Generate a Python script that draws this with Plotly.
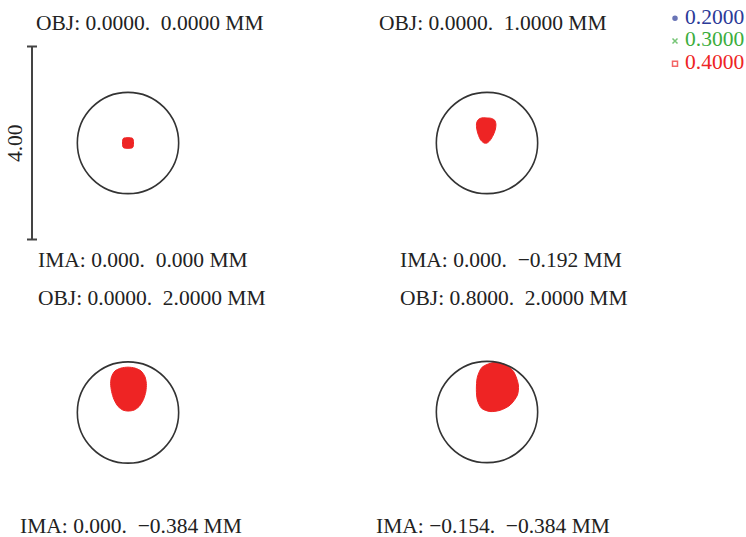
import plotly.graph_objects as go

# Canvas and drawing scale (the 4.00 scale bar spans 193 px)
W, H = 746, 537
PX_PER_UNIT = 48.25

# Field labels
obj_labels = [
    "OBJ: 0.0000.\u00a0 0.0000 MM",
    "OBJ: 0.0000.\u00a0 1.0000 MM",
    "OBJ: 0.0000.\u00a0 2.0000 MM",
    "OBJ: 0.8000.\u00a0 2.0000 MM",
]
ima_labels = [
    "IMA: 0.000.\u00a0 0.000 MM",
    "IMA: 0.000.\u00a0 \u22120.192 MM",
    "IMA: 0.000.\u00a0 \u22120.384 MM",
    "IMA: \u22120.154.\u00a0 \u22120.384 MM",
]

# Wavelengths shown in the key
wavelengths = ["0.2000", "0.3000", "0.4000"]
wave_colors = ["#2b3a98", "#3cad3c", "#ee2424"]
wave_symbols = ["circle", "x-thin-open", "square-open"]

# Airy disc radius and scale bar length (same units)
airy_radius = 1.05
scale_bar = 4.00

# Spot footprints (outline of the ray cloud), relative to each field's reference point
spot1_x = [-0.11, -0.11, -0.09, 0.09, 0.11, 0.11, 0.09, -0.09]
spot1_y = [-0.06, 0.06, 0.10, 0.10, 0.06, -0.06, -0.10, -0.10]

spot2_x = [-0.02, 0.09, 0.16, 0.185, 0.175, 0.13, 0.06, 0.0, -0.06, -0.13,
           -0.185, -0.215, -0.215, -0.175, -0.11]
spot2_y = [0.52, 0.51, 0.47, 0.39, 0.29, 0.165, 0.05, 0.0, 0.0, 0.06,
           0.185, 0.31, 0.42, 0.49, 0.52]

spot3_x = [0.0, 0.145, 0.27, 0.35, 0.38, 0.37, 0.32, 0.23, 0.125, 0.0, -0.105,
           -0.205, -0.29, -0.34, -0.36, -0.34, -0.27, -0.145]
spot3_y = [0.94, 0.92, 0.86, 0.745, 0.60, 0.435, 0.27, 0.125, 0.05, 0.03, 0.05,
           0.125, 0.27, 0.435, 0.60, 0.745, 0.86, 0.92]

spot4_x = [-0.10, 0.165, 0.38, 0.55, 0.65, 0.63, 0.48, 0.27, 0.06, -0.115,
           -0.20, -0.22, -0.20]
spot4_y = [0.93, 1.03, 0.98, 0.84, 0.56, 0.35, 0.145, 0.035, 0.01, 0.08,
           0.25, 0.46, 0.72]

spots = [(spot1_x, spot1_y), (spot2_x, spot2_y), (spot3_x, spot3_y), (spot4_x, spot4_y)]

# Panel layout (pixel positions of each field's reference point and labels)
panel_px = [(128, 143), (487, 143), (128, 412.5), (487, 412)]
obj_px = [(150, 23), (492.5, 23), (152, 298), (513.5, 298)]
ima_px = [(142.5, 260), (511, 260), (131, 526), (492.5, 526)]
bar_x_px = 32

FONT = "Liberation Serif, Times New Roman, serif"
FONT_SIZE = 21.5
RED = wave_colors[2]
INK = "#333333"


def to_units(px, py):
    return px / PX_PER_UNIT, (H - py) / PX_PER_UNIT


fig = go.Figure()
shapes = []
annotations = []

for (px, py), (sx, sy) in zip(panel_px, spots):
    cx, cy = to_units(px, py)
    fig.add_trace(go.Scatter(
        x=[cx + v for v in sx] + [cx + sx[0]],
        y=[cy + v for v in sy] + [cy + sy[0]],
        mode="lines", fill="toself", fillcolor=RED,
        line=dict(color=RED, width=1, shape="spline", smoothing=0.8),
        showlegend=False, hoverinfo="skip",
    ))
    shapes.append(dict(
        type="circle", xref="x", yref="y",
        x0=cx - airy_radius, x1=cx + airy_radius,
        y0=cy - airy_radius, y1=cy + airy_radius,
        line=dict(color=INK, width=1.6), layer="above",
    ))

# Scale bar beside the first field
bx, by = to_units(bar_x_px, panel_px[0][1])
cap = 5 / PX_PER_UNIT
shapes.append(dict(type="line", xref="x", yref="y", x0=bx, x1=bx,
                   y0=by - scale_bar / 2, y1=by + scale_bar / 2,
                   line=dict(color="#444444", width=2)))
for end in (-1, 1):
    shapes.append(dict(type="line", xref="x", yref="y", x0=bx - cap, x1=bx + cap,
                       y0=by + end * scale_bar / 2, y1=by + end * scale_bar / 2,
                       line=dict(color="#444444", width=2)))
annotations.append(dict(
    x=15 / W, y=1 - panel_px[0][1] / H, xref="paper", yref="paper",
    text=f"{scale_bar:.2f}", showarrow=False, textangle=-90,
    font=dict(family=FONT, size=FONT_SIZE, color="#222222"),
    xanchor="center", yanchor="middle",
))

for text, (px, py) in zip(obj_labels + ima_labels, obj_px + ima_px):
    annotations.append(dict(
        x=px / W, y=1 - py / H, xref="paper", yref="paper", text=text,
        showarrow=False, xanchor="center", yanchor="middle",
        font=dict(family=FONT, size=FONT_SIZE, color="#222222"),
    ))

# Wavelength key: symbols, then coloured labels a little to their right
fig.add_trace(go.Scatter(
    x=[0, 0, 0], y=wavelengths, xaxis="x2", yaxis="y2",
    mode="markers",
    marker=dict(symbol=wave_symbols, size=[4, 5, 5], color=wave_colors,
                line=dict(color=wave_colors, width=1.5)),
    cliponaxis=False, showlegend=False, hoverinfo="skip",
))
fig.add_trace(go.Scatter(
    x=[2.0, 2.0, 2.0], y=wavelengths, xaxis="x2", yaxis="y2",
    mode="text", text=wavelengths, textposition="middle right",
    textfont=dict(family=FONT, size=FONT_SIZE, color=wave_colors),
    cliponaxis=False, showlegend=False, hoverinfo="skip",
))

fig.update_layout(
    width=W, height=H,
    margin=dict(l=0, r=0, t=0, b=0),
    paper_bgcolor="white", plot_bgcolor="white",
    xaxis=dict(range=[0, W / PX_PER_UNIT], visible=False, domain=[0, 1]),
    yaxis=dict(range=[0, H / PX_PER_UNIT], visible=False, domain=[0, 1]),
    xaxis2=dict(range=[-1, 3], domain=[670 / W, 690 / W], visible=False, anchor="y2"),
    yaxis2=dict(range=[2.5, -0.5], domain=[1 - 75 / H, 1 - 7 / H], visible=False,
                anchor="x2", type="category"),
    shapes=shapes, annotations=annotations,
)

fig.write_html("out.html")
